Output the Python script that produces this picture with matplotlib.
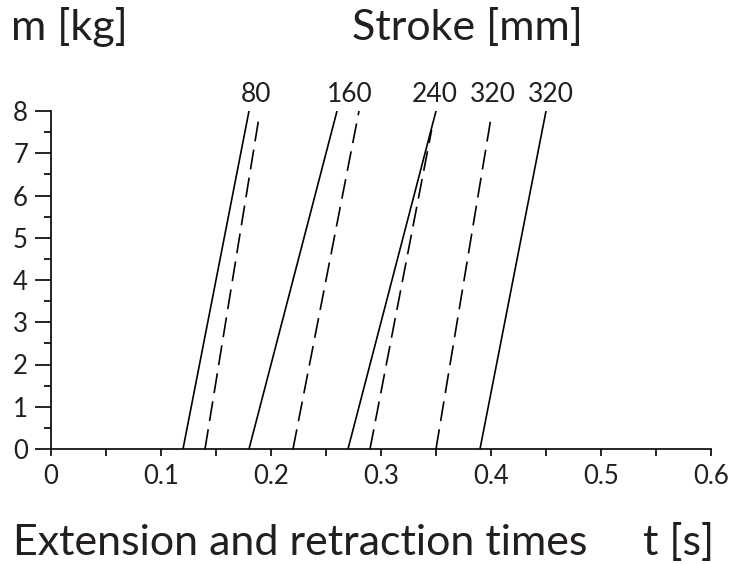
import matplotlib
matplotlib.use("Agg")
import matplotlib.pyplot as plt
from matplotlib.ticker import MultipleLocator

plt.rcParams['font.family'] = ['Lato', 'DejaVu Sans']

# Extension / retraction time lines: (t at m=0, t at top, m at top)
solid_t0 = [0.12, 0.18, 0.27, 0.39]
solid_t1 = [0.18, 0.26, 0.35, 0.45]
solid_m1 = [8.0, 8.0, 8.0, 8.0]

dashed_t0 = [0.14, 0.22, 0.29, 0.35]
dashed_t1 = [0.189, 0.28, 0.346, 0.40]
dashed_m1 = [7.84, 8.0, 7.55, 7.84]

stroke_labels = ["80", "160", "240", "320", "320"]
stroke_label_t = [0.186, 0.272, 0.349, 0.402, 0.454]

x_ticks = [0, 0.1, 0.2, 0.3, 0.4, 0.5, 0.6]
x_tick_labels = ["0", "0.1", "0.2", "0.3", "0.4", "0.5", "0.6"]
y_ticks = [0, 1, 2, 3, 4, 5, 6, 7, 8]

INK = "#231f20"

fig = plt.figure(figsize=(7.32, 5.64), dpi=100)
ax = fig.add_axes([51 / 732, (564 - 449) / 564, 660 / 732, 338 / 564])

for a, b, m in zip(solid_t0, solid_t1, solid_m1):
    ax.plot([a, b], [0, m], color="black", lw=1.2, solid_capstyle="butt")
for a, b, m in zip(dashed_t0, dashed_t1, dashed_m1):
    ax.plot([a, b], [0, m], color="black", lw=1.2, dashes=(12, 5))

for lbl, t in zip(stroke_labels, stroke_label_t):
    ax.text(t, 8.22, lbl, ha="center", va="baseline", fontsize=19, color=INK)

ax.set_xlim(0, 0.6)
ax.set_ylim(0, 8)
ax.set_xticks(x_ticks)
ax.set_xticklabels(x_tick_labels)
ax.set_yticks(y_ticks)
ax.xaxis.set_minor_locator(MultipleLocator(0.05))
ax.yaxis.set_minor_locator(MultipleLocator(0.5))
ax.tick_params(which="both", direction="out", color="black", width=1.2, labelsize=18.5,
               labelcolor=INK)
ax.tick_params(axis="x", which="both", length=5, pad=6)
ax.tick_params(axis="y", which="major", length=11.5, pad=5)
ax.tick_params(axis="y", which="minor", length=5)
for s in ["top", "right"]:
    ax.spines[s].set_visible(False)
for s in ["left", "bottom"]:
    ax.spines[s].set_linewidth(1.2)
ax.spines["left"].set_bounds(0, 8)

fig.text(11 / 732, 1 - 40 / 564, "m [kg]", fontsize=31, va="baseline", ha="left", color=INK)
fig.text(352 / 732, 1 - 40 / 564, "Stroke [mm]", fontsize=31, va="baseline", ha="left", color=INK)
fig.text(13 / 732, 1 - 555 / 564, "Extension and retraction times", fontsize=31, va="baseline",
         ha="left", color=INK)
fig.text(714 / 732, 1 - 555 / 564, "t [s]", fontsize=31, va="baseline", ha="right", color=INK)

fig.savefig("out.png", dpi=100)
